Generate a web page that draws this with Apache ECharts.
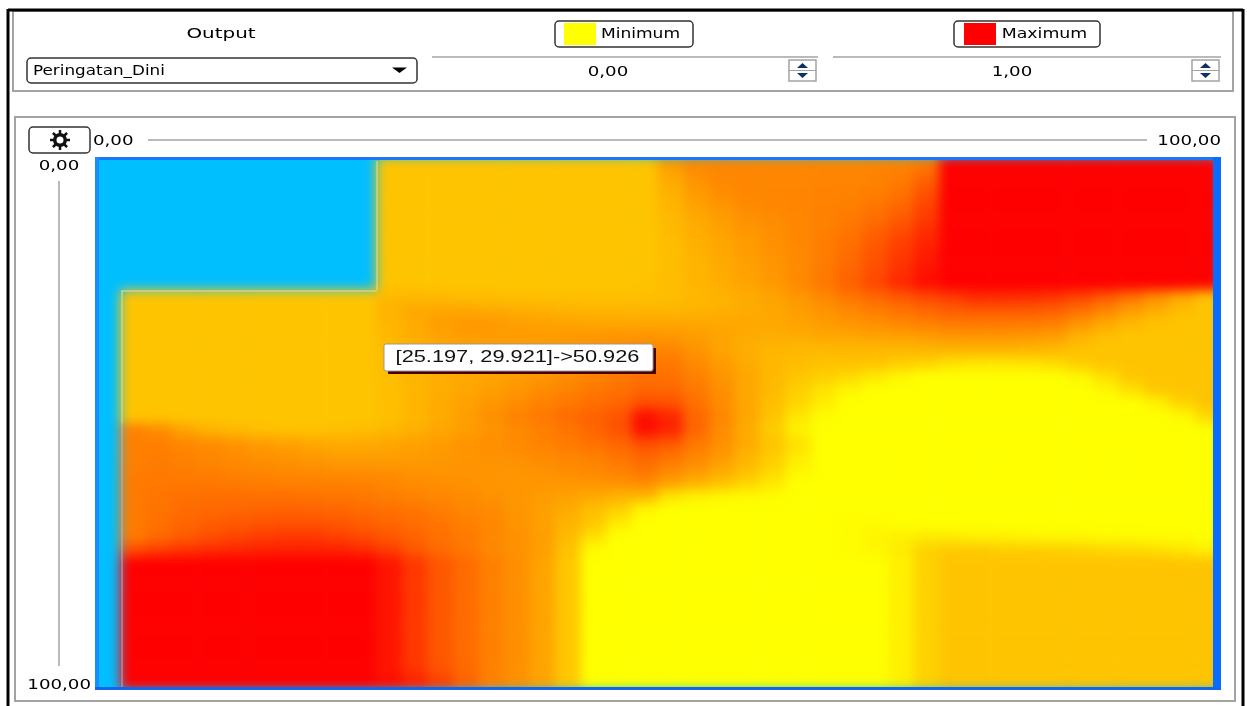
<!DOCTYPE html>
<html>
<head>
<meta charset="utf-8">
<title>Peringatan_Dini</title>
<script src="https://cdn.jsdelivr.net/npm/echarts@6/dist/echarts.min.js"></script>
<style>
  html, body { margin: 0; padding: 0; background: #fff; }
  #surfaceBox { position: absolute; left: 95px; top: 157px; width: 1126px; height: 533px; overflow: hidden; background: #00bfff; }
  #surface { width: 1126px; height: 533px; filter: blur(6px); }
  #panel { position: absolute; left: 0; top: 0; width: 1247px; height: 706px; pointer-events: none; }
</style>
</head>
<body>
<div id="surfaceBox"><div id="surface"></div></div>
<div id="panel"></div>
<script>
// labels of the panel
const outputName = 'Peringatan_Dini'
const colorMinLabel = 'Minimum'
const colorMaxLabel = 'Maximum'
const outputMin = '0,00'
const outputMax = '1,00'
const xRangeLabels = ['0,00', '100,00']
const yRangeLabels = ['0,00', '100,00']
const hoverLabel = '[25.197, 29.921]->50.926'

// surface, top row first. -1 = no value (blue), 0 = yellow, 100 = red
const surfaceRows = [
  [-1,-1,-1,-1,-1,-1,-1,-1,-1,-1,-1,23,23,23,23,23,23,23,23,23,23,23,40,47,48,48,48,48,48,48,48,49,52,100,100,100,100,100,100,100,100,100,100,100],
  [-1,-1,-1,-1,-1,-1,-1,-1,-1,-1,-1,23,23,23,23,23,23,23,23,23,23,23,34,43,47,48,48,48,48,48,49,51,60,100,100,100,100,100,100,100,100,100,100,100],
  [-1,-1,-1,-1,-1,-1,-1,-1,-1,-1,-1,23,23,23,23,23,23,23,23,23,23,23,31,40,45,47,48,48,49,49,50,54,67,100,100,100,100,100,100,100,100,100,100,100],
  [-1,-1,-1,-1,-1,-1,-1,-1,-1,-1,-1,23,23,23,23,23,23,23,23,23,23,23,29,37,42,46,47,48,49,50,53,59,72,100,100,100,100,100,100,100,100,100,100,100],
  [-1,-1,-1,-1,-1,-1,-1,-1,-1,-1,-1,23,23,23,23,23,23,23,23,23,23,23,28,34,39,44,46,48,50,52,57,64,77,100,100,100,100,100,100,100,100,100,100,100],
  [-1,-1,-1,-1,-1,-1,-1,-1,-1,-1,-1,23,23,23,23,23,23,23,23,23,23,23,27,32,37,41,44,47,50,54,61,70,82,100,100,100,100,100,100,100,100,100,100,100],
  [-1,-1,-1,-1,-1,-1,-1,-1,-1,-1,-1,23,23,23,23,23,23,23,23,23,23,23,26,31,35,39,43,47,51,56,65,75,86,100,100,100,100,100,100,100,100,100,100,100],
  [-1,-1,-1,-1,-1,-1,-1,-1,-1,-1,-1,23,23,23,23,23,23,23,23,23,23,23,26,30,34,38,42,46,51,58,68,78,90,100,100,100,100,100,100,100,100,100,100,100],
  [-1,-1,-1,-1,-1,-1,-1,-1,-1,-1,-1,23,23,23,23,23,23,23,23,23,23,23,26,29,33,37,41,46,52,60,70,81,92,100,100,100,100,100,100,100,100,100,100,100],
  [-1,-1,-1,-1,-1,-1,-1,-1,-1,-1,-1,23,23,23,23,23,23,23,23,23,23,24,26,29,32,36,40,46,53,62,72,84,95,100,100,100,100,100,100,100,100,100,100,100],
  [-1,23,23,23,23,23,23,23,23,23,23,28,28,27,26,26,25,25,25,25,25,25,26,28,30,33,36,41,47,54,60,66,72,78,84,84,83,80,74,66,56,45,35,24],
  [-1,23,23,23,23,23,23,23,23,23,23,30,34,35,35,33,32,31,30,29,29,29,29,30,31,33,35,38,42,47,51,55,60,64,66,66,65,63,57,48,39,32,26,23],
  [-1,23,23,23,23,23,23,23,23,23,23,29,33,38,40,40,38,37,36,35,35,35,35,35,34,34,34,36,39,41,44,47,50,52,52,52,52,50,42,34,28,24,23,23],
  [-1,23,23,23,23,23,23,23,23,23,23,28,32,36,38,39,39,39,40,41,42,42,41,39,36,33,32,33,34,35,36,37,39,41,41,41,40,38,30,25,23,23,23,23],
  [-1,23,23,23,23,23,23,23,23,23,23,27,31,35,37,38,39,40,41,43,45,47,48,42,36,32,29,28,28,28,28,28,29,29,30,30,29,27,24,23,23,23,23,23],
  [-1,23,23,23,23,23,23,23,23,23,23,26,30,33,35,37,39,41,43,46,49,52,53,46,39,33,28,26,24,24,23,20,17,12,10,10,11,14,20,23,23,23,23,23],
  [-1,23,23,23,23,23,23,23,23,23,23,26,29,32,34,36,39,42,45,49,53,57,56,50,42,35,28,23,19,15,9,3,0,0,0,0,0,0,3,12,22,23,23,23],
  [-1,23,23,23,23,23,23,23,23,23,23,25,29,32,35,38,41,45,49,53,56,60,60,53,44,35,27,19,11,4,0,0,0,0,0,0,0,0,0,3,12,22,23,23],
  [-1,23,23,23,23,23,23,23,23,23,23,25,29,33,37,41,45,49,53,57,60,70,68,56,45,34,25,16,7,0,0,0,0,0,0,0,0,0,0,0,0,5,17,23],
  [-1,23,23,23,23,23,23,23,23,23,23,25,29,33,38,44,49,53,58,62,68,95,86,60,47,35,23,10,1,0,0,0,0,0,0,0,0,0,0,0,0,0,2,15],
  [-1,50,45,36,30,27,25,24,24,25,26,28,31,35,38,42,46,50,54,60,68,95,86,60,45,33,20,5,0,0,0,0,0,0,0,0,0,0,0,0,0,0,0,0],
  [-1,50,50,47,45,42,39,37,34,33,33,35,37,39,42,44,46,49,52,56,60,70,66,53,44,33,23,12,0,0,0,0,0,0,0,0,0,0,0,0,0,0,0,0],
  [-1,50,51,49,47,45,43,42,40,38,38,38,39,40,42,43,44,46,48,50,55,60,55,48,40,30,20,8,0,0,0,0,0,0,0,0,0,0,0,0,0,0,0,0],
  [-1,51,52,51,50,48,47,46,45,44,44,43,42,42,42,42,42,43,45,47,50,55,47,41,34,26,16,4,0,0,0,0,0,0,0,0,0,0,0,0,0,0,0,0],
  [-1,52,53,53,53,52,51,50,50,50,49,47,45,44,43,42,41,41,41,41,43,45,37,30,24,17,9,0,0,0,0,0,0,0,0,0,0,0,0,0,0,0,0,0],
  [-1,52,54,56,57,57,56,56,55,54,53,51,49,47,45,43,41,39,37,34,30,28,10,5,3,2,1,0,0,0,0,0,0,0,0,0,0,0,0,0,0,0,0,0],
  [-1,52,55,58,59,60,61,62,61,60,58,56,54,51,48,46,42,38,33,25,18,3,0,0,0,0,0,0,0,0,0,0,0,0,0,0,0,0,0,0,0,0,0,0],
  [-1,52,56,60,63,65,67,68,68,66,63,60,57,54,50,47,42,37,30,22,8,0,0,0,0,0,0,0,0,1,2,0,0,0,0,0,0,0,0,0,0,0,0,0],
  [-1,52,58,64,69,73,76,78,78,75,71,66,61,56,52,47,43,38,27,12,0,0,0,0,0,0,0,0,0,1,4,6,8,7,6,5,4,3,3,2,2,1,1,0],
  [-1,70,76,80,83,85,87,88,88,87,84,76,66,58,53,47,43,38,24,2,0,0,0,0,0,0,0,0,0,1,3,8,18,21,21,20,20,19,18,16,15,13,10,6],
  [-1,100,100,100,100,100,100,100,100,100,100,92,78,66,58,50,44,36,22,0,0,0,0,0,0,0,0,0,0,0,0,6,18,23,23,23,23,23,23,23,23,23,23,23],
  [-1,100,100,100,100,100,100,100,100,100,100,92,78,66,58,50,44,36,22,0,0,0,0,0,0,0,0,0,0,0,0,6,18,23,23,23,23,23,23,23,23,23,23,23],
  [-1,100,100,100,100,100,100,100,100,100,100,92,78,66,58,50,44,36,22,0,0,0,0,0,0,0,0,0,0,0,0,6,18,23,23,23,23,23,23,23,23,23,23,23],
  [-1,100,100,100,100,100,100,100,100,100,100,92,78,66,58,50,44,36,22,0,0,0,0,0,0,0,0,0,0,0,0,6,18,23,23,23,23,23,23,23,23,23,23,23],
  [-1,100,100,100,100,100,100,100,100,100,100,92,78,66,58,50,44,36,22,0,0,0,0,0,0,0,0,0,0,0,0,6,18,23,23,23,23,23,23,23,23,23,23,23],
  [-1,100,100,100,100,100,100,100,100,100,100,92,78,66,58,50,44,36,22,0,0,0,0,0,0,0,0,0,0,0,0,6,18,23,23,23,23,23,23,23,23,23,23,23],
  [-1,100,100,100,100,100,100,100,100,100,100,92,78,66,58,50,44,36,22,0,0,0,0,0,0,0,0,0,0,0,0,6,18,23,23,23,23,23,23,23,23,23,23,23],
  [-1,100,100,100,100,100,100,100,100,100,100,92,78,66,58,50,44,36,22,0,0,0,0,0,0,0,0,0,0,0,0,6,18,23,23,23,23,23,23,23,23,23,23,23],
  [-1,100,100,100,100,100,100,100,100,100,100,92,80,68,59,50,44,36,22,0,0,0,0,0,0,0,0,0,0,0,0,6,18,23,23,23,23,23,23,23,23,23,23,23],
  [-1,100,100,100,100,100,100,100,100,100,100,96,88,76,62,50,44,36,22,0,0,0,0,0,0,0,0,0,0,0,0,6,18,23,23,23,23,23,23,23,23,23,23,23]
]

const xCells = surfaceRows[0].map((v, i) => i)
const yCells = surfaceRows.map((v, i) => i)
const cells = []
surfaceRows.forEach((row, r) => {
  row.forEach((v, c) => {
    // no value: the blue background stays visible
    if (v >= 0) {
      cells.push([c, r, v])
    }
  })
})

// 表面图
const surfaceChart = echarts.init(document.getElementById('surface'))
surfaceChart.setOption({
  animation: false,
  grid: { left: 0, right: 0, top: 0, bottom: 0 },
  xAxis: { type: 'category', data: xCells, show: false },
  yAxis: { type: 'category', data: yCells, show: false, inverse: true },
  visualMap: {
    show: false,
    min: 0,
    max: 100,
    inRange: { color: ['#ffff00', '#ff0000'] }
  },
  series: [{
    type: 'heatmap',
    data: cells,
    progressive: 0,
    itemStyle: { borderWidth: 0 }
  }]
})

const font = '"DejaVu Sans"'
const grayLine = '#a3a3a3'

function label (text, x, y, align, stretch) {
  return {
    type: 'text',
    x: x,
    y: y,
    scaleX: stretch || 1.3,
    z: 20,
    style: { text: text, x: 0, y: 0, align: align || 'center', verticalAlign: 'middle', font: '14px ' + font, fill: '#000' }
  }
}
function box (x, y, w, h, fill, stroke, r, lineWidth) {
  return {
    type: 'rect',
    z: 10,
    shape: { x: x, y: y, width: w, height: h, r: r || 0 },
    style: { fill: fill || 'none', stroke: stroke || 'none', lineWidth: lineWidth === undefined ? 1.5 : lineWidth }
  }
}
function line (x1, y1, x2, y2, color, w) {
  return { type: 'line', z: 12, shape: { x1: x1, y1: y1, x2: x2, y2: y2 }, style: { stroke: color, lineWidth: w || 1 } }
}
function triangle (points, color) {
  return { type: 'polygon', z: 14, shape: { points: points }, style: { fill: color } }
}
function spinner (x, y) {
  return [
    box(x, y, 27, 21, '#fff', grayLine, 0, 1.5),
    line(x, y + 10.5, x + 27, y + 10.5, grayLine, 1),
    triangle([[x + 13.5, y + 3], [x + 19, y + 8], [x + 8, y + 8]], '#10306a'),
    triangle([[x + 13.5, y + 18], [x + 19, y + 13], [x + 8, y + 13]], '#10306a')
  ]
}
function gear (cx, cy) {
  const parts = [{
    type: 'ring', z: 14, shape: { cx: cx, cy: cy, r: 7, r0: 3.5 }, style: { fill: '#111' }
  }]
  for (let a = 0; a < 8; a++) {
    const t = a * Math.PI / 4
    parts.push(line(cx + 6 * Math.cos(t), cy + 6 * Math.sin(t), cx + 10 * Math.cos(t), cy + 10 * Math.sin(t), '#111', 2.5))
  }
  return parts
}

const panelChart = echarts.init(document.getElementById('panel'))
panelChart.setOption({
  animation: false,
  graphic: [
    // 外框
    line(8, 10, 1243, 10, '#000', 3),
    line(8, 9, 8, 706, '#000', 3),
    line(1243, 9, 1243, 706, '#000', 3),
    box(13, 11, 1220, 80, null, grayLine, 0, 2),
    box(15, 117, 1220, 584, null, grayLine, 0, 2),

    // output
    label('Output', 221, 34, 'center', 1.42),
    box(27, 58, 390, 25, '#fff', '#333', 4, 1.5),
    label(outputName, 33, 71, 'left', 1.2),
    triangle([[392, 67.5], [407, 67.5], [399.5, 73]], '#000'),

    // min
    box(555, 21, 138, 26, '#fff', '#333', 4, 1.5),
    box(564, 23, 32, 22, '#ffff00'),
    label(colorMinLabel, 640.5, 34, 'center', 1.22),
    line(432, 57, 818, 57, grayLine, 1.5),
    label(outputMin, 608, 72),
    ...spinner(789, 60),

    // max
    box(954, 21, 146, 26, '#fff', '#333', 4, 1.5),
    box(964, 23, 32, 22, '#ff0000'),
    label(colorMaxLabel, 1044.5, 34, 'center', 1.24),
    line(833, 57, 1221, 57, grayLine, 1.5),
    label(outputMax, 1012, 72),
    ...spinner(1192, 60),

    // axes
    box(29, 127, 61, 26, '#fff', '#333', 4, 1.5),
    ...gear(60, 140),
    label(xRangeLabels[0], 93, 141, 'left'),
    line(148, 140, 1147, 140, grayLine, 1.5),
    label(xRangeLabels[1], 1221, 141, 'right'),
    label(yRangeLabels[0], 59, 166),
    line(59, 181, 59, 666, grayLine, 1.5),
    label(yRangeLabels[1], 91, 685, 'right'),

    // blue frame around the surface
    box(95, 157, 1126, 3, '#1a78f8'),
    box(95, 157, 4, 533, '#1a8cfc'),
    box(1213, 157, 8, 533, '#0a6cff'),
    box(95, 687, 1126, 3, '#1464f0'),

    // pale seams of the no-value area
    line(377, 161, 377, 290, 'rgba(255,225,130,0.45)', 2),
    line(121, 291, 377, 291, 'rgba(255,225,130,0.45)', 2),
    line(122, 291, 122, 423, 'rgba(255,225,130,0.45)', 2),
    line(122, 423, 122, 687, 'rgba(255,170,170,0.4)', 2),

    // hover text
    box(388, 348, 268, 26, '#4a0000'),
    box(384, 344, 269, 27, '#fff', '#999', 2, 1),
    {
      type: 'text',
      x: 517.5,
      y: 358,
      z: 20,
      scaleX: 1.36,
      style: { text: hoverLabel, x: 0, y: 0, align: 'center', verticalAlign: 'middle', font: '16px "Liberation Sans"', fill: '#111' }
    }
  ]
})
</script>
</body>
</html>
